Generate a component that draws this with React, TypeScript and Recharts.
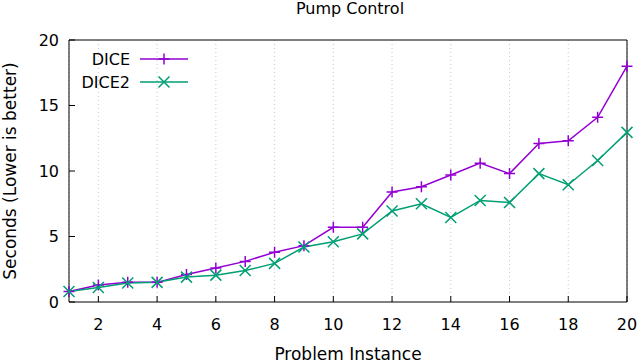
import { LineChart, Line, XAxis, YAxis, CartesianGrid } from "recharts";

const instances = [1, 2, 3, 4, 5, 6, 7, 8, 9, 10, 11, 12, 13, 14, 15, 16, 17, 18, 19, 20];
const diceSeconds = [0.8, 1.3, 1.5, 1.5, 2.1, 2.6, 3.1, 3.8, 4.3, 5.7, 5.7, 8.4, 8.8, 9.7, 10.6, 9.8, 12.1, 12.3, 14.1, 18.0];
const dice2Seconds = [0.8, 1.1, 1.45, 1.5, 1.9, 2.05, 2.4, 2.95, 4.2, 4.6, 5.2, 6.95, 7.5, 6.45, 7.75, 7.6, 9.8, 8.95, 10.8, 12.95];
const xTicks = [2, 4, 6, 8, 10, 12, 14, 16, 18, 20];
const yTicks = [0, 5, 10, 15, 20];
const seriesNames = ["DICE", "DICE2"];
const seriesColors = ["#9400d3", "#009e73"];

const data = instances.map((x, i) => ({
  x,
  dice: diceSeconds[i],
  dice2: dice2Seconds[i],
}));

const FONT = "'DejaVu Sans', sans-serif";
const R = 5.5;

function Plus({ cx, cy, stroke }: any) {
  if (cx == null || cy == null) return null;
  return (
    <path
      d={`M${cx - R},${cy}H${cx + R}M${cx},${cy - R}V${cy + R}`}
      stroke={stroke}
      strokeWidth={1.5}
      fill="none"
    />
  );
}

function Cross({ cx, cy, stroke }: any) {
  if (cx == null || cy == null) return null;
  return (
    <path
      d={`M${cx - R},${cy - R}L${cx + R},${cy + R}M${cx - R},${cy + R}L${cx + R},${cy - R}`}
      stroke={stroke}
      strokeWidth={1.5}
      fill="none"
    />
  );
}

const markers = [Plus, Cross];

export default function App() {
  const tickStyle = { fill: "#000", fontSize: 16, fontFamily: FONT };
  return (
    <div style={{ position: "absolute", left: 0, top: 0, width: 640, height: 362, background: "#fff" }}>
      <LineChart
        width={640}
        height={362}
        data={data}
        margin={{ top: 39, right: 12, bottom: 59, left: 68 }}
      >
        <CartesianGrid
          xAxisId="b"
          yAxisId="l"
          horizontal={false}
          stroke="#c8c8c8"
          strokeDasharray="1 3"
        />
        <XAxis
          xAxisId="b"
          dataKey="x"
          type="number"
          domain={[1, 20]}
          ticks={xTicks}
          height={1}
          axisLine={{ stroke: "#000" }}
          tickLine={{ stroke: "#000" }}
          tickSize={-6}
          tickMargin={23}
          tick={tickStyle}
        />
        <XAxis
          xAxisId="t"
          orientation="top"
          dataKey="x"
          type="number"
          domain={[1, 20]}
          ticks={xTicks}
          height={1}
          axisLine={{ stroke: "#000" }}
          tickLine={{ stroke: "#000" }}
          tickSize={-6}
          tick={false}
        />
        <YAxis
          yAxisId="l"
          type="number"
          domain={[0, 20]}
          ticks={yTicks}
          width={1}
          axisLine={{ stroke: "#000" }}
          tickLine={{ stroke: "#000" }}
          tickSize={-6}
          tickMargin={16}
          tick={tickStyle}
        />
        <YAxis
          yAxisId="r"
          orientation="right"
          type="number"
          domain={[0, 20]}
          ticks={yTicks}
          width={1}
          axisLine={{ stroke: "#000" }}
          tickLine={{ stroke: "#000" }}
          tickSize={-6}
          tick={false}
        />
        {["dice", "dice2"].map((key, i) => {
          const M = markers[i];
          return (
            <Line
              key={key}
              xAxisId="b"
              yAxisId="l"
              dataKey={key}
              name={seriesNames[i]}
              stroke={seriesColors[i]}
              strokeWidth={1.5}
              type="linear"
              isAnimationActive={false}
              dot={(p: any) => <M key={p.index} {...p} stroke={seriesColors[i]} />}
              activeDot={false}
            />
          );
        })}
      </LineChart>
      <svg
        width={640}
        height={362}
        style={{ position: "absolute", left: 0, top: 0, pointerEvents: "none" }}
        fontFamily={FONT}
      >
        <text x={350} y={14} textAnchor="middle" fontSize={16} fill="#000">
          Pump Control
        </text>
        <text x={348} y={360} textAnchor="middle" fontSize={17} fill="#000">
          Problem Instance
        </text>
        <text
          transform="translate(16,171) rotate(-90)"
          textAnchor="middle"
          fontSize={17}
          fill="#000"
        >
          Seconds (Lower is better)
        </text>
        {seriesNames.map((name, i) => {
          const M = markers[i];
          const y = 59 + i * 23;
          return (
            <g key={name}>
              <text x={130} y={y + 6} textAnchor="end" fontSize={16} fill="#000">
                {name}
              </text>
              <line x1={140} x2={188} y1={y} y2={y} stroke={seriesColors[i]} strokeWidth={1.5} />
              <M cx={164} cy={y} stroke={seriesColors[i]} />
            </g>
          );
        })}
      </svg>
    </div>
  );
}
